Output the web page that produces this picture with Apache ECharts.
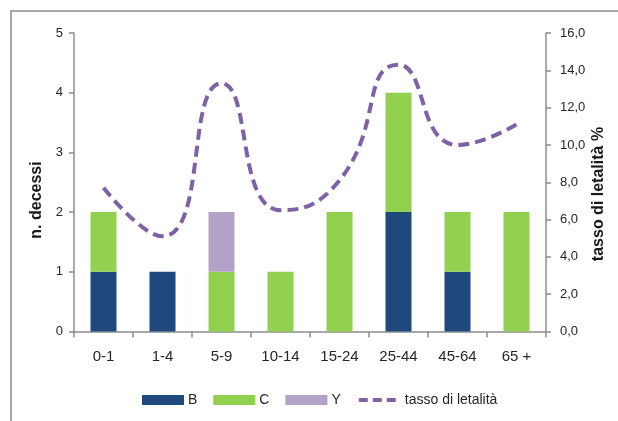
<!DOCTYPE html>
<html>
<head>
<meta charset="utf-8">
<script src="https://cdn.jsdelivr.net/npm/echarts@6/dist/echarts.min.js"></script>
<style>
  html, body { margin: 0; padding: 0; background: #ffffff; }
  #chart { width: 618px; height: 421px; }
</style>
</head>
<body>
<div id="chart"></div>
<script>
// Fasce d'età
const categories = ['0-1', '1-4', '5-9', '10-14', '15-24', '25-44', '45-64', '65 +'];
// Decessi per sierogruppo
const serB = [1, 1, 0, 0, 0, 2, 1, 0];
const serC = [1, 0, 1, 1, 2, 2, 1, 2];
const serY = [0, 0, 1, 0, 0, 0, 0, 0];
// Tasso di letalità (%)
const letalita = [7.7, 5.1, 13.3, 6.5, 8.1, 14.3, 10.0, 11.1];

const FONT = "'Liberation Sans', Arial, sans-serif";
const AXIS_GREY = '#8c8c8c';
const PURPLE = '#7F62A6';

const chart = echarts.init(document.getElementById('chart'), null, { renderer: 'canvas' });

chart.setOption({
  animation: false,
  backgroundColor: '#ffffff',
  textStyle: { fontFamily: FONT, color: '#262626' },
  grid: { left: 74, right: 72, top: 33, bottom: 89.5, containLabel: false },
  legend: {
    left: 142,
    top: 393,
    padding: 0,
    itemWidth: 42,
    itemHeight: 10,
    itemGap: 16,
    textStyle: { fontFamily: FONT, fontSize: 14, color: '#262626', padding: [0, 0, 0, -1] },
    data: [
      { name: 'B', icon: 'rect' },
      { name: 'C', icon: 'rect' },
      { name: 'Y', icon: 'rect' },
      {
        name: 'tasso di letalità',
        itemStyle: { opacity: 0 },
        lineStyle: { color: PURPLE, width: 4, type: [9, 5] }
      }
    ]
  },
  xAxis: {
    type: 'category',
    data: categories,
    axisLine: { lineStyle: { color: AXIS_GREY, width: 1.5 } },
    axisTick: { show: true, alignWithLabel: false, length: 6, lineStyle: { color: AXIS_GREY, width: 1.5 } },
    axisLabel: { fontFamily: FONT, fontSize: 15, color: '#262626', margin: 18 }
  },
  yAxis: [
    {
      type: 'value',
      min: 0, max: 5, interval: 1,
      splitLine: { show: false },
      axisLine: { show: true, lineStyle: { color: AXIS_GREY, width: 1.5 } },
      axisTick: { show: true, length: 5, lineStyle: { color: AXIS_GREY, width: 1.5 } },
      axisLabel: { fontFamily: FONT, fontSize: 13, color: '#262626', margin: 11 }
    },
    {
      type: 'value',
      position: 'right',
      min: 0, max: 16, interval: 2,
      splitLine: { show: false },
      axisLine: { show: true, lineStyle: { color: AXIS_GREY, width: 1.5 } },
      axisTick: { show: true, length: 5, lineStyle: { color: AXIS_GREY, width: 1.5 } },
      axisLabel: {
        fontFamily: FONT, fontSize: 13, color: '#262626', margin: 14,
        formatter: v => v.toFixed(1).replace('.', ',')
      }
    }
  ],
  series: [
    {
      name: 'B', type: 'bar', stack: 'tot', barWidth: 26,
      data: serB, itemStyle: { color: '#1F497D' }
    },
    {
      name: 'C', type: 'bar', stack: 'tot', barWidth: 26,
      data: serC, itemStyle: { color: '#92D050' }
    },
    {
      name: 'Y', type: 'bar', stack: 'tot', barWidth: 26,
      data: serY, itemStyle: { color: '#B3A2C7' }
    },
    {
      name: 'tasso di letalità', type: 'line', yAxisIndex: 1,
      data: letalita, smooth: 0.55, showSymbol: false, symbol: 'none',
      itemStyle: { color: PURPLE },
      lineStyle: { color: PURPLE, width: 4, type: [11, 6] },
      z: 5
    }
  ],
  graphic: [
    {
      type: 'rect', silent: true, z: 100,
      shape: { x: 11, y: 11, width: 700, height: 500 },
      style: { fill: 'none', stroke: '#8c8c8c', lineWidth: 1.5 }
    },
    {
      type: 'text', silent: true,
      x: 37, y: 200, rotation: Math.PI / 2,
      style: {
        text: 'n. decessi', fontFamily: FONT, fontSize: 16, fontWeight: 'bold',
        fill: '#1a1a1a', align: 'center', verticalAlign: 'middle'
      }
    },
    {
      type: 'text', silent: true,
      x: 599, y: 194, rotation: Math.PI / 2,
      style: {
        text: 'tasso di letalità %', fontFamily: FONT, fontSize: 16, fontWeight: 'bold',
        fill: '#1a1a1a', align: 'center', verticalAlign: 'middle'
      }
    }
  ]
});
</script>
</body>
</html>
